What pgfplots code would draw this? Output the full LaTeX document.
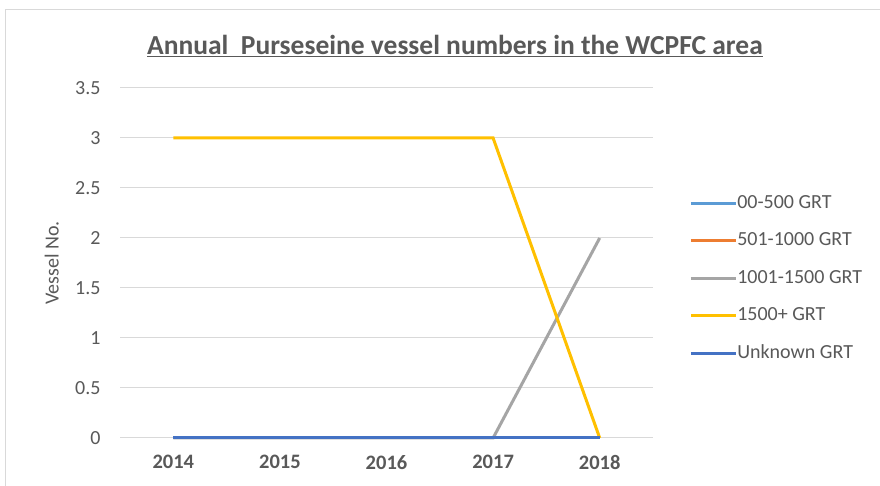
\documentclass[border=0pt]{standalone}
\usepackage{pgfplots}
\pgfplotsset{compat=1.18}
\usepackage{fontspec}
\setmainfont{Carlito}
\definecolor{txt}{HTML}{595959}
\definecolor{grid}{HTML}{D9D9D9}
\definecolor{cA}{HTML}{5B9BD5}
\definecolor{cB}{HTML}{ED7D31}
\definecolor{cC}{HTML}{A5A5A5}
\definecolor{cD}{HTML}{FFC000}
\definecolor{cE}{HTML}{4472C4}
\begin{document}
\begin{tikzpicture}[x=1pt,y=1pt]
\useasboundingbox (0,0) rectangle (880,486);
\fill[white] (0,0) rectangle (880,486);
\draw[color=grid,line width=1.5pt] (5.5,0) -- (5.5,476.5) -- (880,476.5);
\node[font=\fontsize{27.5}{32}\selectfont\bfseries,text=txt] at (455,440) {\underline{Annual\ \ Purseseine vessel numbers in the WCPFC area}};
\begin{axis}[
  at={(120pt,48pt)}, anchor=south west,
  scale only axis, width=533pt, height=350pt,
  xmin=-0.5, xmax=4.5, ymin=0, ymax=3.5,
  xtick={0,1,2,3,4}, xticklabels={2014,2015,2016,2017,2018},
  ytick={0,0.5,1,1.5,2,2.5,3,3.5},
  yticklabels={0,0.5,1,1.5,2,2.5,3,3.5},
  axis line style={draw=none}, tick style={draw=none},
  ymajorgrids, grid style={color=grid,line width=1pt},
  xticklabel style={font=\fontsize{20.5}{24}\selectfont\bfseries,text=txt,yshift=-14pt},
  yticklabel style={font=\fontsize{20}{24}\selectfont,text=txt,xshift=-16pt},
  ylabel={Vessel No.},
  every axis y label/.style={at={(axis description cs:-0.128,0.5)},rotate=90,anchor=center,
    font=\fontsize{20}{24}\selectfont,text=txt},
  clip=false,
  legend style={at={(axis description cs:1.062,0.702)},anchor=north west,draw=none,fill=none,
    font=\fontsize{20}{24}\selectfont,text=txt,row sep=19.5pt,
    nodes={inner sep=0pt,text height=14pt,text depth=4pt}},
  legend cell align=left,
  legend image code/.code={\draw[#1,line width=3pt] (0pt,0pt) -- (45pt,0pt);},
  every axis plot/.append style={line width=3pt},
]
\addplot[cA] coordinates {(0,0) (1,0) (2,0) (3,0) (4,0)};
\addplot[cB] coordinates {(0,0) (1,0) (2,0) (3,0) (4,0)};
\addplot[cC] coordinates {(0,0) (1,0) (2,0) (3,0) (4,2)};
\addplot[cD] coordinates {(0,3) (1,3) (2,3) (3,3) (4,0)};
\addplot[cE] coordinates {(0,0) (1,0) (2,0) (3,0) (4,0)};
\legend{00-500 GRT,501-1000 GRT,1001-1500 GRT,1500+ GRT,Unknown GRT}
\end{axis}
\end{tikzpicture}
\end{document}
